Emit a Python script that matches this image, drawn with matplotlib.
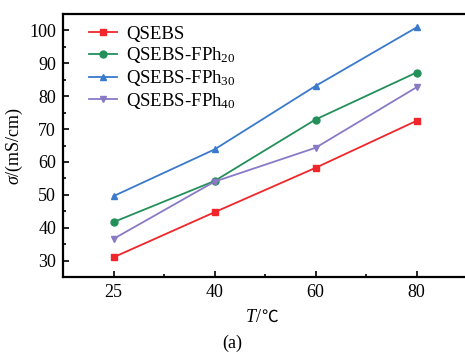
import matplotlib
matplotlib.use("Agg")
import matplotlib.pyplot as plt
from matplotlib.ticker import MultipleLocator, FixedLocator
from matplotlib.offsetbox import TextArea, HPacker, AnchoredOffsetbox

temps = ["25", "40", "60", "80"]
qsebs = [31.0, 44.7, 58.2, 72.5]
fph20 = [41.7, 54.2, 72.9, 87.2]
fph30 = [49.6, 63.8, 83.1, 100.9]
fph40 = [36.6, 54.0, 64.3, 82.7]

series = [
    ("QSEBS", qsebs, "#f0262a", "s"),
    ("QSEBS-FPh$_{20}$", fph20, "#23905a", "o"),
    ("QSEBS-FPh$_{30}$", fph30, "#3a7acc", "^"),
    ("QSEBS-FPh$_{40}$", fph40, "#8a7ac6", "v"),
]

plt.rcParams['font.family'] = ['Liberation Serif', 'DejaVu Serif']
plt.rcParams['mathtext.fontset'] = 'custom'
plt.rcParams['mathtext.rm'] = 'Liberation Serif'
plt.rcParams['mathtext.it'] = 'Liberation Serif:italic'

fig = plt.figure(figsize=(4.65, 3.58), dpi=100)
W, H = 465, 358
ax = fig.add_axes([63 / W, 1 - 277 / H, (467 - 63) / W, (277 - 14) / H])

x = list(range(len(temps)))
for label, vals, color, m in series:
    ax.plot(x, vals, color=color, marker=m, markersize=5, linewidth=1.3, label=label)

ax.set_xlim(-0.5, 3.5)
ax.set_ylim(25, 105)
ax.set_xticks(x)
ax.set_xticklabels(temps)
ax.xaxis.set_minor_locator(FixedLocator([0.5, 1.5, 2.5]))
ax.yaxis.set_major_locator(FixedLocator([30, 40, 50, 60, 70, 80, 90, 100]))
ax.yaxis.set_minor_locator(MultipleLocator(5))
ax.tick_params(which='both', direction='in', labelsize=13, width=1.2)
ax.tick_params(which='major', length=4, pad=5)
ax.tick_params(which='minor', length=2.5)
for s in ax.spines.values():
    s.set_linewidth(1.6)

ax.set_ylabel(r"$\sigma$/(mS/cm)", fontsize=13, labelpad=3)

# x label: italic T followed by /℃
t1 = TextArea("T", textprops=dict(fontsize=13, fontstyle='italic', family=['Liberation Serif']))
t2 = TextArea("/", textprops=dict(fontsize=13, family=['Liberation Serif']))
t3 = TextArea("℃", textprops=dict(fontsize=12, family=['Noto Sans CJK SC', 'DejaVu Serif'], fontweight='light'))
pack = HPacker(children=[t1, t2, t3], align="baseline", pad=0, sep=0)
ab = AnchoredOffsetbox(loc='center', child=pack, frameon=False, pad=0, borderpad=0,
                       bbox_to_anchor=(262 / W, 1 - 317 / H),
                       bbox_transform=fig.transFigure)
fig.add_artist(ab)

leg = ax.legend(loc='upper left', frameon=False, fontsize=13.5, handlelength=1.5,
                handletextpad=0.5, labelspacing=0.15, borderaxespad=0.0,
                bbox_to_anchor=(0.045, 0.985))

fig.text(0.5, 1 - 343 / H, "(a)", ha='center', va='center', fontsize=13)

fig.savefig("out.png", dpi=100)
